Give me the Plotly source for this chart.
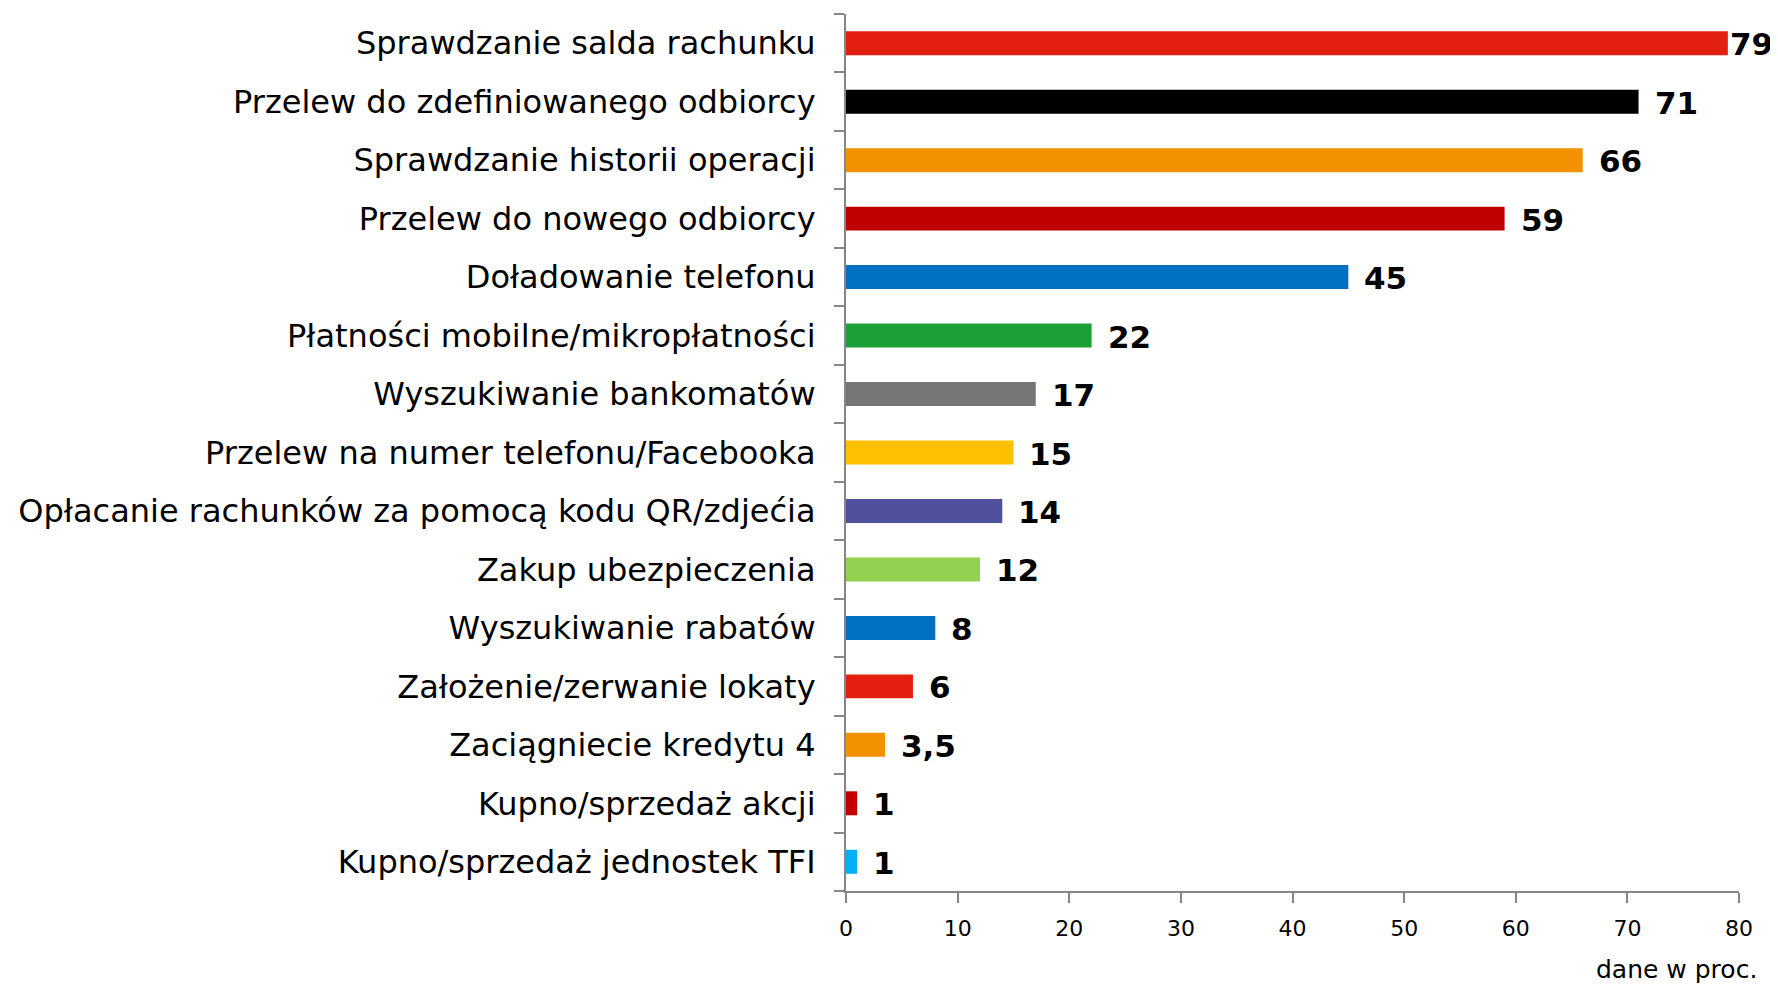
import plotly.graph_objects as go

categories = [
    "Sprawdzanie salda rachunku",
    "Przelew do zdefiniowanego odbiorcy",
    "Sprawdzanie historii operacji",
    "Przelew do nowego odbiorcy",
    "Doładowanie telefonu",
    "Płatności mobilne/mikropłatności",
    "Wyszukiwanie bankomatów",
    "Przelew na numer telefonu/Facebooka",
    "Opłacanie rachunków za pomocą kodu QR/zdjećia",
    "Zakup ubezpieczenia",
    "Wyszukiwanie rabatów",
    "Założenie/zerwanie lokaty",
    "Zaciągniecie kredytu 4",
    "Kupno/sprzedaż akcji",
    "Kupno/sprzedaż jednostek TFI",
]
values = [79, 71, 66, 59, 45, 22, 17, 15, 14, 12, 8, 6, 3.5, 1, 1]
value_labels = ["79", "71", "66", "59", "45", "22", "17", "15", "14", "12", "8", "6", "3,5", "1", "1"]
colors = [
    "#E3200F", "#000000", "#F39200", "#C00000", "#0070C0",
    "#1BA038", "#767676", "#FFC000", "#4F519C", "#92D050",
    "#0070C0", "#E3200F", "#F39200", "#C00000", "#00B0F0",
]
x_ticks = [0, 10, 20, 30, 40, 50, 60, 70, 80]

FONT = "DejaVu Sans, Verdana, sans-serif"

fig = go.Figure()
fig.add_trace(go.Bar(
    y=categories,
    x=values,
    orientation="h",
    marker=dict(color=colors, line=dict(width=0)),
    hoverinfo="skip",
))

for cat, v, lab in zip(categories, values, value_labels):
    fig.add_annotation(
        x=v, y=cat, xref="x", yref="y",
        text="<b>%s</b>" % lab,
        showarrow=False,
        xanchor="left", yanchor="middle",
        xshift=14 if v < 78 else 0, yshift=-1,
        font=dict(family=FONT, size=31, color="#000000"),
    )

fig.add_annotation(
    x=1.0, y=0, xref="paper", yref="paper",
    text="dane w proc.",
    showarrow=False,
    xanchor="right", yanchor="middle",
    xshift=20, yshift=-78,
    font=dict(family=FONT, size=25, color="#000000"),
)

fig.update_layout(
    width=1770, height=977,
    margin=dict(l=838, r=39, t=6, b=94),
    paper_bgcolor="white",
    plot_bgcolor="white",
    showlegend=False,
    bargap=0.59,
    font=dict(family=FONT, color="#000000"),
    xaxis=dict(
        range=[0, 80],
        tickvals=x_ticks,
        ticktext=[str(t) for t in x_ticks],
        showgrid=False,
        zeroline=False,
        showline=True,
        linecolor="#868686",
        linewidth=2,
        ticks="outside",
        ticklen=10,
        tickwidth=1.5,
        tickcolor="#868686",
        ticklabelstandoff=7,
        tickfont=dict(family=FONT, size=22, color="#000000"),
        fixedrange=True,
    ),
    yaxis=dict(
        categoryorder="array",
        categoryarray=categories[::-1],
        showgrid=False,
        zeroline=False,
        showline=True,
        linecolor="#868686",
        linewidth=2,
        ticks="outside",
        tickson="boundaries",
        ticklen=10,
        tickwidth=1.5,
        tickcolor="#868686",
        ticklabelstandoff=22,
        tickfont=dict(family=FONT, size=32, color="#000000"),
        fixedrange=True,
    ),
)

fig.write_html("out.html")
